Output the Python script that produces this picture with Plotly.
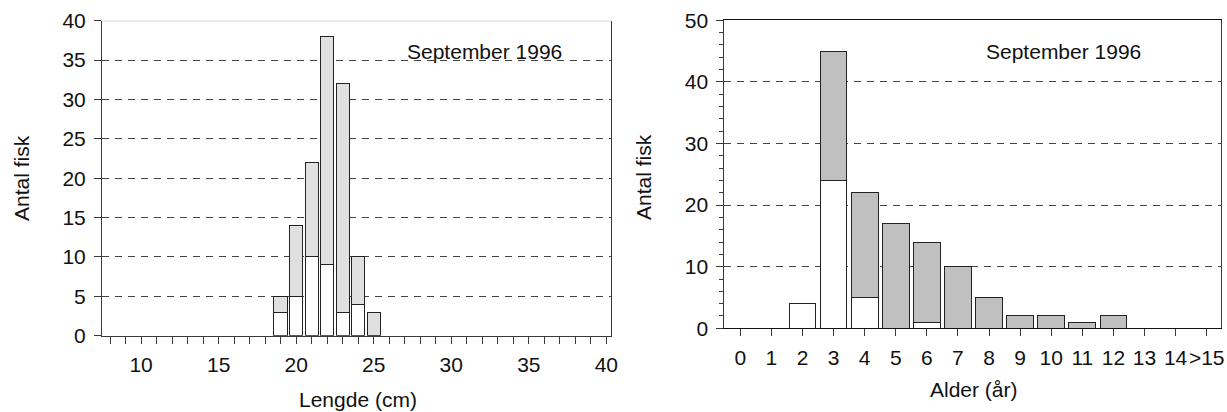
import plotly.graph_objects as go

# ---- data ----
length_cm = [19, 20, 21, 22, 23, 24, 25]
length_white = [3, 5, 10, 9, 3, 4, 0]
length_gray = [2, 9, 12, 29, 29, 6, 3]   # totals: 5,14,22,38,32,10,3

age_pos = list(range(16))
age_labels = ["0", "1", "2", "3", "4", "5", "6", "7", "8", "9", "10", "11", "12", "13", "14", ">15"]
age_white = [0, 0, 4, 24, 5, 0, 1, 0, 0, 0, 0, 0, 0, 0, 0, 0]
age_gray = [0, 0, 0, 21, 17, 17, 13, 10, 5, 2, 2, 1, 2, 0, 0, 0]  # totals: 4,45,22,17,14,10,5,2,2,1,2

title_text = "September 1996"

W, H = 1227, 412
def px(x):
    return x / W
def py(y):
    return 1 - y / H

FONT = "Liberation Sans, Arial, Helvetica, sans-serif"
AX = "#3a3a3a"
GRID = "#444444"
FS = 21

fig = go.Figure()
bw = 0.86
fig.add_trace(go.Bar(x=length_cm, y=length_white, width=bw, marker=dict(color="white", line=dict(color="#222", width=1)),
                     xaxis="x", yaxis="y", showlegend=False))
fig.add_trace(go.Bar(x=length_cm, y=length_gray, width=bw, marker=dict(color="#e0e0e0", line=dict(color="#222", width=1)),
                     xaxis="x", yaxis="y", showlegend=False))
fig.add_trace(go.Bar(x=age_pos, y=age_white, width=bw, marker=dict(color="white", line=dict(color="#222", width=1)),
                     xaxis="x2", yaxis="y2", showlegend=False))
fig.add_trace(go.Bar(x=age_pos, y=age_gray, width=bw, marker=dict(color="#c0c0c0", line=dict(color="#222", width=1)),
                     xaxis="x2", yaxis="y2", showlegend=False))

tickfont = dict(family=FONT, size=FS, color="#111")

fig.update_layout(
    template="none",
    width=W, height=H, margin=dict(l=0, r=0, t=0, b=0, pad=0), autosize=False,
    paper_bgcolor="white", plot_bgcolor="white",
    barmode="stack",
    font=dict(family=FONT, size=FS, color="#111"),
    xaxis=dict(domain=[px(102), px(611)], range=[7.48, 40.3], anchor="y", automargin=False,
               dtick=5, tick0=0, ticks="outside", ticklen=7, tickcolor=AX, tickwidth=1, tickangle=0,
               minor=dict(dtick=1, ticks="outside", ticklen=7, tickcolor=AX, showgrid=False),
               showline=True, linecolor=AX, linewidth=1, mirror=False,
               showgrid=False, zeroline=False, tickfont=tickfont, ticklabelstandoff=3),
    yaxis=dict(domain=[py(335.7), py(20.7)], range=[0, 40], anchor="x", automargin=False,
               dtick=5, ticks="outside", ticklen=7, tickcolor=AX, tickwidth=1,
               showline=True, linecolor=AX, linewidth=1, mirror=True,
               showgrid=True, gridcolor=GRID, gridwidth=1, griddash="7px,6px",
               zeroline=False, tickfont=tickfont, ticklabelstandoff=4),
    xaxis2=dict(domain=[px(724.3), px(1221)], range=[-0.515, 15.46], anchor="y2", automargin=False,
                tickmode="array", tickvals=age_pos, ticktext=age_labels, tickangle=0,
                ticks="outside", ticklen=7, tickcolor=AX, tickwidth=1,
                showline=True, linecolor="#111", linewidth=1, mirror=True,
                showgrid=False, zeroline=False, tickfont=tickfont, ticklabelstandoff=3),
    yaxis2=dict(domain=[py(328.3), py(20.3)], range=[0, 50], anchor="x2", automargin=False,
                dtick=10, ticks="outside", ticklen=7, tickcolor=AX, tickwidth=1,
                minor=dict(dtick=2, ticks="outside", ticklen=4, tickcolor=AX, showgrid=False),
                showline=True, linecolor=AX, linewidth=1, mirror=True,
                showgrid=True, gridcolor=GRID, gridwidth=1, griddash="7px,6px",
                zeroline=False, tickfont=tickfont, ticklabelstandoff=4),
)

# top border of left panel (light)
fig.add_shape(type="line", xref="x", yref="y", x0=7.48, x1=40.3, y0=40, y1=40,
              line=dict(color="#9a9a9a", width=1), layer="below")

ann = [
    dict(text=title_text, x=px(484), y=py(52), xanchor="center", yanchor="middle"),
    dict(text=title_text, x=px(1063), y=py(52), xanchor="center", yanchor="middle"),
    dict(text="Lengde (cm)", x=px(358), y=py(399), xanchor="center", yanchor="middle"),
    dict(text="Alder (år)", x=px(974), y=py(389), xanchor="center", yanchor="middle"),
    dict(text="Antal fisk", x=px(21), y=py(178), xanchor="center", yanchor="middle", textangle=-90),
    dict(text="Antal fisk", x=px(644), y=py(177), xanchor="center", yanchor="middle", textangle=-90),
]
for a in ann:
    fig.add_annotation(xref="paper", yref="paper", showarrow=False,
                       font=dict(family=FONT, size=FS, color="#111"), **a)

fig.write_html("out.html")
